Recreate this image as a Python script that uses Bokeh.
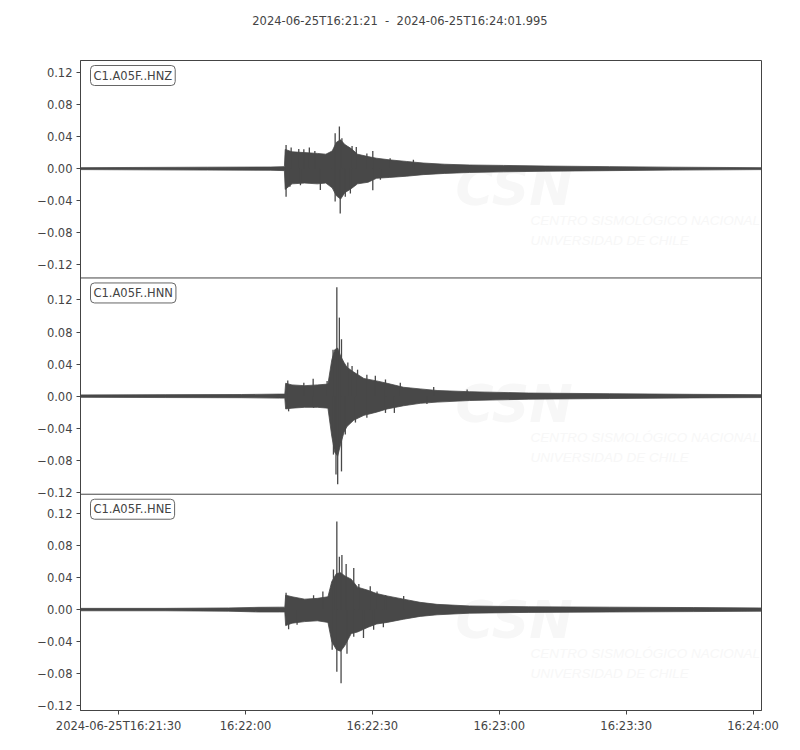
from bokeh.plotting import figure
from bokeh.models import Range1d, FixedTicker, Label, Span, ColumnDataSource, Div
from bokeh.layouts import column
from bokeh.embed import file_html
from bokeh.resources import INLINE

TITLE = "2024-06-25T16:21:21  -  2024-06-25T16:24:01.995"
T_END = 160.995  # seconds after 16:21:21
channels = ["C1.A05F..HNZ", "C1.A05F..HNN", "C1.A05F..HNE"]
y_limits = [(-0.1365, 0.135), (-0.1225, 0.1475), (-0.126, 0.144)]
y_tick_values = [-0.12, -0.08, -0.04, 0.0, 0.04, 0.08, 0.12]
x_tick_seconds = [9, 39, 69, 99, 129, 159]
x_tick_labels = ["2024-06-25T16:21:30", "16:22:00", "16:22:30", "16:23:00", "16:23:30", "16:24:00"]

# ---- HNZ: envelope (min/max) and peak spikes ----
hnz_env_t = [0, 15, 30, 45, 48.2, 48.4, 50, 53, 56, 58, 59.5, 60.5, 61.5, 62.5, 64, 65.5, 68, 70, 73, 77, 81, 86, 92, 100, 110, 125, 140, 161]
hnz_env_up = [.0012, .0015, .0018, .002, .0025, .024, .021, .020, .019, .018, .022, .033, .036, .030, .025, .018, .015, .013, .011, .009, .007, .0055, .0045, .004, .0032, .0025, .0018, .0012]
hnz_env_lo = [-.0012, -.0015, -.0018, -.002, -.0025, -.026, -.019, -.018, -.019, -.018, -.024, -.034, -.038, -.030, -.025, -.019, -.017, -.012, -.011, -.0095, -.0075, -.006, -.0048, -.004, -.0032, -.0025, -.0018, -.0012]
hnz_spk_t = [48.6, 49.8, 51.6, 52.8, 54.1, 55.4, 59.1, 60.2, 61.2, 61.8, 64.2, 65.2, 67.7, 69.1, 73.2, 78.7,
             48.6, 49.5, 52.0, 56.7, 60.2, 61.4, 62.6, 63.8, 69.1, 70.9]
hnz_spk_v = [.0296, .0263, .0246, .0242, .0263, .022, .019, .0442, .0525, .038, .0283, .027, .019, .022, .013, .011,
             -.035, -.0225, -.0206, -.0267, -.041, -.056, -.035, -.031, -.027, -.014]

# ---- HNN ----
hnn_env_t = [0, 20, 38, 47, 48.3, 48.5, 50, 53, 56, 58.5, 59.4, 60.1, 60.8, 61.5, 62.3, 63, 64.6, 67, 70, 72.5, 76.4, 80.3, 84.3, 92, 106, 125, 145, 161]
hnn_env_up = [.0015, .0018, .002, .0025, .0025, .016, .014, .013, .014, .015, .045, .058, .060, .050, .042, .036, .030, .022, .019, .016, .011, .009, .007, .0055, .0038, .003, .0022, .0018]
hnn_env_lo = [-.0015, -.0018, -.002, -.0025, -.0025, -.016, -.015, -.014, -.014, -.015, -.050, -.070, -.075, -.060, -.045, -.038, -.030, -.024, -.020, -.016, -.012, -.009, -.0075, -.0055, -.0038, -.003, -.0022, -.0018]
hnn_spk_t = [49.0, 52.8, 55.0, 58.3, 59.7, 60.6, 61.2, 61.7, 63.2, 64.2, 65.5, 67.7, 69.7, 72.1, 75.6, 83.5, 91.4,
             49.2, 55.1, 59.8, 60.4, 60.8, 61.7, 62.6, 65.0, 67.7, 72.1, 74.2, 81.9]
hnn_spk_v = [.0196, .0167, .0217, .0188, .058, .136, .098, .071, .042, .0375, .033, .0267, .0254, .0208, .0167, .0113, .0083,
             -.019, -.0146, -.073, -.098, -.110, -.094, -.048, -.033, -.027, -.021, -.021, -.010]

# ---- HNE ----
hne_env_t = [0, 20, 35, 42, 47, 48.3, 48.5, 50, 53, 56, 58.5, 59.4, 60.5, 61.5, 62.5, 64, 65.5, 68, 70, 72.5, 76.4, 80.3, 84.3, 92, 106, 125, 145, 161]
hne_env_up = [.0015, .0015, .002, .0028, .003, .003, .018, .016, .013, .014, .016, .035, .045, .046, .042, .038, .028, .024, .020, .017, .013, .009, .0065, .0045, .0035, .003, .0025, .002]
hne_env_lo = [-.0015, -.0015, -.002, -.003, -.003, -.003, -.020, -.017, -.015, -.014, -.016, -.040, -.050, -.052, -.045, -.030, -.028, -.022, -.018, -.016, -.012, -.0085, -.0065, -.0045, -.0035, -.003, -.0025, -.002]
hne_spk_t = [48.6, 55.1, 57.3, 59.8, 60.6, 61.2, 61.8, 62.8, 64.6, 65.8, 68.5, 70.1, 72.1, 76.4,
             49.2, 51.2, 59.5, 60.6, 61.6, 63.0, 64.6, 66.9, 69.3, 71.6]
hne_spk_v = [.021, .018, .0225, .050, .110, .066, .068, .057, .052, .032, .029, .0225, .018, .0171,
             -.0246, -.019, -.050, -.0775, -.092, -.055, -.034, -.0355, -.0253, -.0221]

traces = [
    (hnz_env_t, hnz_env_up, hnz_env_lo, hnz_spk_t, hnz_spk_v),
    (hnn_env_t, hnn_env_up, hnn_env_lo, hnn_spk_t, hnn_spk_v),
    (hne_env_t, hne_env_up, hne_env_lo, hne_spk_t, hne_spk_v),
]

TRACE = "#484848"
INK = "#444444"
FONT = "DejaVu Sans"
WM = "#f7f7f7"

spans = [hi - lo for lo, hi in y_limits]
S = sum(spans)
ranges = {}
cum = 0.0
tops = []
for k, (lo, hi) in enumerate(y_limits):
    ranges["p%d" % k] = Range1d(hi + cum - S, hi + cum)
    tops.append(hi + cum)
    cum += spans[k]

p = figure(width=792, height=692, output_backend="svg", toolbar_location=None,
           x_range=Range1d(0, T_END), y_range=Range1d(tops[0] - S, tops[0]),
           min_border_left=80, min_border_right=31, min_border_top=2, min_border_bottom=40)
p.extra_y_ranges = ranges
p.xgrid.visible = False
p.ygrid.visible = False
p.outline_line_color = INK
p.outline_line_width = 1
p.background_fill_color = "white"
p.border_fill_color = "white"

# watermark (very faint)
for k in range(3):
    rn = "p%d" % k
    top = y_limits[k][1]
    p.add_layout(Label(x=375, x_units="screen", y=top, y_range_name=rn, y_offset=-156,
                       text="CSN", text_font=FONT, text_font_size="52px", text_font_style="bold italic",
                       text_color=WM, text_baseline="bottom", level="underlay"))
    p.add_layout(Label(x=450, x_units="screen", y=top, y_range_name=rn, y_offset=-152,
                       text="CENTRO SISMOLÓGICO NACIONAL", text_font="Liberation Sans",
                       text_font_size="13.5px", text_font_style="italic",
                       text_color=WM, text_baseline="top", level="underlay"))
    p.add_layout(Label(x=450, x_units="screen", y=top, y_range_name=rn, y_offset=-172,
                       text="UNIVERSIDAD DE CHILE", text_font="Liberation Sans",
                       text_font_size="13.5px", text_font_style="italic",
                       text_color=WM, text_baseline="top", level="underlay"))

for k, (et, eu, el, st, sv) in enumerate(traces):
    rn = "p%d" % k
    env = ColumnDataSource(dict(t=et, up=eu, lo=el))
    p.varea(x="t", y1="lo", y2="up", source=env, fill_color=TRACE, y_range_name=rn)
    p.line(x="t", y="up", source=env, line_color=TRACE, line_width=0.8, y_range_name=rn)
    p.line(x="t", y="lo", source=env, line_color=TRACE, line_width=0.8, y_range_name=rn)
    spk = ColumnDataSource(dict(t=st, v=sv, z=[0.0] * len(st)))
    p.segment(x0="t", y0="z", x1="t", y1="v", source=spk, line_color=TRACE, line_width=1.3, y_range_name=rn)

# panel separators & y ticks
ticks = []
overrides = {}
main_top = tops[0]
for k, (lo, hi) in enumerate(y_limits):
    shift = main_top - tops[k]
    for v in y_tick_values:
        if lo <= v <= hi:
            pos = round(v + shift, 6)
            ticks.append(pos)
            lab = "%.2f" % abs(v)
            overrides[pos] = ("\u2212" + lab) if v < 0 else lab
    if k < 2:
        p.add_layout(Span(location=lo + shift, dimension="width", line_color=INK, line_width=1))

p.yaxis.ticker = FixedTicker(ticks=ticks)
p.yaxis.major_label_overrides = overrides
p.xaxis.ticker = FixedTicker(ticks=x_tick_seconds)
p.xaxis.major_label_overrides = {s: l for s, l in zip(x_tick_seconds, x_tick_labels)}

for ax in (p.xaxis[0], p.yaxis[0]):
    ax.axis_line_color = INK
    ax.major_tick_line_color = INK
    ax.minor_tick_line_color = None
    ax.major_tick_out = 4
    ax.major_tick_in = 0
    ax.major_label_text_color = INK
    ax.major_label_text_font = FONT
    ax.major_label_text_font_size = "11.5px"
    ax.major_label_standoff = 4

for k, name in enumerate(channels):
    p.add_layout(Label(x=10, x_units="screen", y=y_limits[k][1], y_range_name="p%d" % k, y_offset=-5,
                       text=name, text_font=FONT, text_font_size="11.5px", text_color=INK,
                       text_baseline="top", padding=3, border_radius=4,
                       border_line_color="#666666", border_line_width=1,
                       background_fill_color="white"))

title = Div(text='<div style="width:800px;text-align:center;white-space:pre;font-family:\'DejaVu Sans\';'
                 'font-size:11.5px;color:#444444;padding-top:13px;">' + TITLE + '</div>',
            width=800, height=58, margin=0)

layout = column(title, p, spacing=0)
open("out.html", "w").write(file_html(layout, INLINE))
